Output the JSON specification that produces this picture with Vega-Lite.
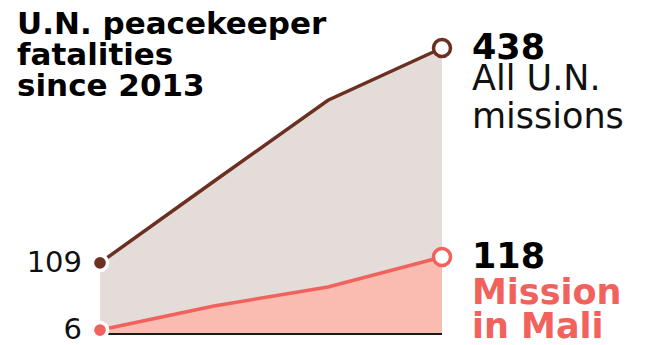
{
  "$schema": "https://vega.github.io/schema/vega-lite/v6.json",
  "autosize": {"type": "none"},
  "width": 342,
  "height": 286,
  "padding": {"left": 100, "top": 48, "right": 222, "bottom": 11},
  "background": "white",
  "config": {"view": {"stroke": null}},
  "title": {
    "text": ["U.N. peacekeeper", "fatalities", "since 2013"],
    "anchor": "start",
    "frame": "group",
    "font": "DejaVu Sans",
    "fontSize": 31,
    "fontWeight": "bold",
    "color": "#000000",
    "lineHeight": 31,
    "baseline": "alphabetic",
    "offset": 0,
    "dx": -83,
    "dy": 96
  },
  "data": {
    "values": [
      {"series": "all", "year": 2013, "deaths": 109, "label": "All U.N.\nmissions"},
      {"series": "all", "year": 2014, "deaths": 234, "label": "All U.N.\nmissions"},
      {"series": "all", "year": 2015, "deaths": 358, "label": "All U.N.\nmissions"},
      {"series": "all", "year": 2016, "deaths": 438, "label": "All U.N.\nmissions"},
      {"series": "mali", "year": 2013, "deaths": 6, "label": "Mission\nin Mali"},
      {"series": "mali", "year": 2014, "deaths": 43, "label": "Mission\nin Mali"},
      {"series": "mali", "year": 2015, "deaths": 72, "label": "Mission\nin Mali"},
      {"series": "mali", "year": 2016, "deaths": 118, "label": "Mission\nin Mali"}
    ]
  },
  "encoding": {
    "x": {"field": "year", "type": "quantitative", "scale": {"domain": [2013, 2016], "zero": false, "nice": false}, "axis": null},
    "y": {"field": "deaths", "type": "quantitative", "scale": {"domain": [0, 438], "nice": false}, "axis": null}
  },
  "layer": [
    {
      "transform": [{"filter": "datum.series === 'all'"}],
      "mark": {"type": "area", "color": "#e4dcd9", "opacity": 1}
    },
    {
      "transform": [{"filter": "datum.series === 'mali'"}],
      "mark": {"type": "area", "color": "#fabcb1", "opacity": 1}
    },
    {
      "transform": [{"filter": "datum.series === 'mali' && datum.year === 2013"}],
      "mark": {"type": "rule", "color": "#1a1a1a", "strokeWidth": 2},
      "encoding": {
        "x": {"datum": 2013, "type": "quantitative"},
        "x2": {"datum": 2016},
        "y": {"datum": 0, "type": "quantitative"}
      }
    },
    {
      "transform": [{"filter": "datum.series === 'all'"}],
      "mark": {"type": "line", "color": "#6b3022", "strokeWidth": 3.5},
      "encoding": {}
    },
    {
      "transform": [{"filter": "datum.series === 'mali'"}],
      "mark": {"type": "line", "color": "#f0625b", "strokeWidth": 3.5},
      "encoding": {}
    },
    {
      "transform": [{"filter": "datum.year === 2013"}],
      "mark": {"type": "point", "filled": true, "size": 230, "stroke": "white", "strokeWidth": 3.5, "opacity": 1, "strokeOpacity": 1},
      "encoding": {
        "fill": {"field": "series", "type": "nominal", "scale": {"domain": ["all", "mali"], "range": ["#6b3022", "#f0625b"]}, "legend": null}
      }
    },
    {
      "transform": [{"filter": "datum.year === 2016"}],
      "mark": {"type": "point", "filled": false, "fill": "white", "fillOpacity": 1, "size": 290, "strokeWidth": 3.5, "opacity": 1},
      "encoding": {
        "stroke": {"field": "series", "type": "nominal", "scale": {"domain": ["all", "mali"], "range": ["#6b3022", "#f0625b"]}, "legend": null}
      }
    },
    {
      "transform": [{"filter": "datum.year === 2013"}],
      "mark": {"type": "text", "align": "right", "baseline": "middle", "dx": -18, "dy": 0, "font": "DejaVu Sans", "fontSize": 29, "color": "#111111"},
      "encoding": {"text": {"field": "deaths", "type": "quantitative"}}
    },
    {
      "transform": [{"filter": "datum.year === 2016"}],
      "mark": {"type": "text", "align": "left", "baseline": "middle", "dx": 30, "dy": 0, "font": "DejaVu Sans", "fontSize": 35, "fontWeight": "bold", "color": "#000000"},
      "encoding": {"text": {"field": "deaths", "type": "quantitative"}}
    },
    {
      "transform": [{"filter": "datum.year === 2016 && datum.series === 'all'"}],
      "mark": {"type": "text", "align": "left", "baseline": "alphabetic", "dx": 30, "dy": 42, "font": "DejaVu Sans", "fontSize": 35, "lineHeight": 38, "lineBreak": "\n", "color": "#111111"},
      "encoding": {"text": {"field": "label", "type": "nominal"}}
    },
    {
      "transform": [{"filter": "datum.year === 2016 && datum.series === 'mali'"}],
      "mark": {"type": "text", "align": "left", "baseline": "alphabetic", "dx": 30, "dy": 47, "font": "DejaVu Sans", "fontSize": 35, "fontWeight": "bold", "lineHeight": 34, "lineBreak": "\n", "color": "#f0625b"},
      "encoding": {"text": {"field": "label", "type": "nominal"}}
    }
  ]
}
